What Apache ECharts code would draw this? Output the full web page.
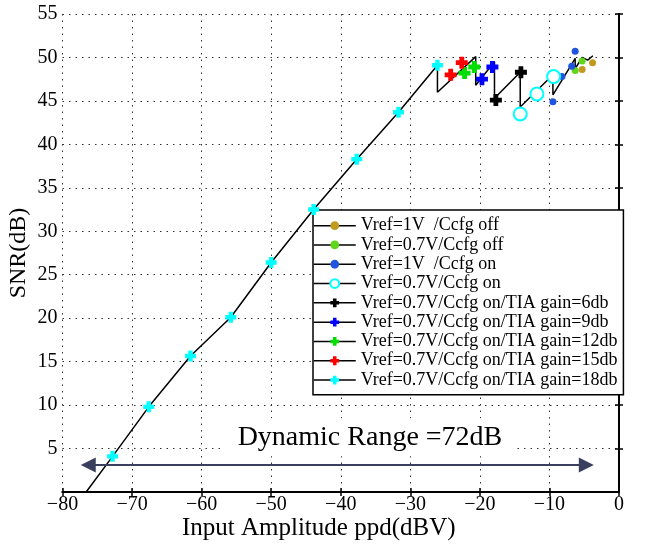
<!DOCTYPE html>
<html><head><meta charset="utf-8">
<script src="https://cdn.jsdelivr.net/npm/echarts@6/dist/echarts.min.js"></script>
<style>html,body{margin:0;padding:0;background:#fff}#c{width:655px;height:544px}</style>
</head><body><div id="c"></div>
<script>
// ---- data ----
const seriesNames = [
  'Vref=1V  /Ccfg off',
  'Vref=0.7V/Ccfg off',
  'Vref=1V  /Ccfg on',
  'Vref=0.7V/Ccfg on',
  'Vref=0.7V/Ccfg on/TIA gain=6db',
  'Vref=0.7V/Ccfg on/TIA gain=9db',
  'Vref=0.7V/Ccfg on/TIA gain=12db',
  'Vref=0.7V/Ccfg on/TIA gain=15db',
  'Vref=0.7V/Ccfg on/TIA gain=18db'
];
const curveX = [-76.6, -72.8, -67.6, -61.6, -55.8, -50.0, -43.9, -37.7, -31.7, -26.1, -26.1, -20.6, -20.6, -17.9, -17.9, -14.2, -14.2, -9.5, -9.5, -6.9, -6.3, -6.3, -5.3, -4.5, -3.75];
const curveY = [0, 4.1, 9.8, 15.65, 20.1, 26.4, 32.5, 38.3, 43.7, 49.1, 46.0, 50.1, 46.8, 49.5, 45.3, 48.3, 44.3, 48.0, 45.7, 49.1, 49.9, 48.7, 50.0, 49.7, 50.2];
const vref1OffX = [-5.3, -3.8];            const vref1OffY = [48.6, 49.4];
const vref07OffX = [-6.3, -5.3];           const vref07OffY = [48.5, 49.6];
const vref1OnX = [-9.5, -8.2, -6.8, -6.3]; const vref1OnY = [44.9, 47.8, 49.0, 50.7];
const vref07OnX = [-14.2, -11.8, -9.4];    const vref07OnY = [43.5, 45.8, 47.8];
const gain6X = [-17.7, -14.1];             const gain6Y = [45.1, 48.3];
const gain9X = [-19.7, -18.2];             const gain9Y = [47.5, 48.9];
const gain12X = [-22.2, -20.8];            const gain12Y = [48.2, 48.9];
const gain15X = [-24.2, -22.6];            const gain15Y = [48.0, 49.4];
const gain18X = [-72.8, -67.6, -61.6, -55.8, -50.0, -43.9, -37.7, -31.7, -26.1];
const gain18Y = [4.1, 9.8, 15.65, 20.1, 26.4, 32.5, 38.3, 43.7, 49.1];
const xTicks = [-80, -70, -60, -50, -40, -30, -20, -10, 0];
const yTicks = [5, 10, 15, 20, 25, 30, 35, 40, 45, 50, 55];
const rangeText = 'Dynamic Range =72dB';
const rangeStart = -76.3, rangeEnd = -4.7, rangeLevel = 3.1;
const rangeLabelAt = [-35.8, 6.3];
const xTitle = 'Input Amplitude ppd(dBV)';
const yTitle = 'SNR(dB)';

// ---- chart ----
const pairs = (xs, ys) => xs.map((x, i) => [x, ys[i]]);
const FONT = 'Liberation Serif';
const PLUS = 'path://M3,0H7V3H10V7H7V10H3V7H0V3H3Z';
const gridDash = {color: '#333', width: 1, type: [1.5, 5]};
const fmt = v => String(v).replace('-', '\u2212');

function markerSeries(name, data, symbol, size, color, extra) {
  return Object.assign({
    name: name, type: 'line', data: data, symbol: symbol, symbolSize: size,
    showSymbol: true, z: 5,
    lineStyle: {width: 0, opacity: 0},
    itemStyle: {color: color},
    emphasis: {disabled: true}
  }, extra || {});
}

const chart = echarts.init(document.getElementById('c'));
chart.setOption({
  animation: false,
  backgroundColor: '#fff',
  grid: {left: 62.5, right: 36, top: 14, bottom: 52, containLabel: false, outerBoundsMode: 'none'},
  xAxis: [{
    type: 'value', min: xTicks[0], max: xTicks[xTicks.length - 1], interval: 10, position: 'bottom',
    axisLine: {lineStyle: {color: '#000', width: 2}},
    axisTick: {inside: true, length: 4, lineStyle: {color: '#000', width: 1.5}},
    axisLabel: {fontFamily: FONT, fontSize: 20, color: '#000', margin: 3, formatter: fmt},
    splitLine: {show: true, lineStyle: gridDash},
    name: xTitle, nameLocation: 'middle', nameGap: 24, nameMoveOverlap: false,
    nameTextStyle: {fontFamily: FONT, fontSize: 25, color: '#000', padding: [0, 44, 0, 0]}
  }, {
    type: 'value', min: xTicks[0], max: xTicks[xTicks.length - 1], interval: 10, position: 'top',
    axisLine: {show: true, lineStyle: {color: '#000', width: 2}},
    axisTick: {show: true, inside: true, length: 4, lineStyle: {color: '#000', width: 1.5}},
    axisLabel: {show: false}, splitLine: {show: false}
  }],
  yAxis: [{
    type: 'value', min: 0, max: yTicks[yTicks.length - 1], interval: 5, position: 'left',
    axisLine: {show: true, lineStyle: {color: '#000', width: 2}},
    axisTick: {show: true, inside: true, length: 4, lineStyle: {color: '#000', width: 1.5}},
    axisLabel: {fontFamily: FONT, fontSize: 20, color: '#000', margin: 5, showMinLabel: false},
    splitLine: {show: true, lineStyle: gridDash},
    name: yTitle, nameLocation: 'middle', nameGap: 32, nameRotate: 90, nameMoveOverlap: false,
    nameTextStyle: {fontFamily: FONT, fontSize: 24, color: '#000'}
  }, {
    type: 'value', min: 0, max: yTicks[yTicks.length - 1], interval: 5, position: 'right',
    axisLine: {show: true, lineStyle: {color: '#000', width: 2}},
    axisTick: {show: true, inside: true, length: 4, lineStyle: {color: '#000', width: 1.5}},
    axisLabel: {show: false}, splitLine: {show: false}
  }],
  legend: {
    orient: 'vertical', left: 313, top: 210, padding: [6, 6, 5, 0],
    itemGap: 0, itemWidth: 42, itemHeight: 11,
    backgroundColor: '#fff', borderColor: '#000', borderWidth: 1.5, borderRadius: 0,
    textStyle: {fontFamily: FONT, fontSize: 18, color: '#000', lineHeight: 19.3},
    lineStyle: {color: '#000', width: 1.5, opacity: 1},
    selectedMode: false,
    data: seriesNames
  },
  series: [
    {
      name: 'curve', type: 'line', data: pairs(curveX, curveY), symbol: 'none', z: 3,
      lineStyle: {color: '#000', width: 1.5},
      markLine: {
        silent: true, symbol: ['triangle', 'triangle'], symbolSize: [15, 15],
        lineStyle: {color: '#3b3f5e', width: 2, type: 'solid'},
        label: {show: false},
        data: [[{coord: [rangeStart, rangeLevel]}, {coord: [rangeEnd, rangeLevel]}]]
      },
      markPoint: {
        silent: true,
        data: [{
          coord: rangeLabelAt, symbol: 'rect', symbolSize: [290, 38],
          itemStyle: {color: '#fff'},
          label: {show: true, position: 'inside', formatter: rangeText,
                  fontFamily: FONT, fontSize: 28, color: '#000'}
        }]
      }
    },
    markerSeries(seriesNames[0], pairs(vref1OffX, vref1OffY), 'circle', 7, '#bf9a1f'),
    markerSeries(seriesNames[1], pairs(vref07OffX, vref07OffY), 'circle', 7, '#5fd61c'),
    markerSeries(seriesNames[2], pairs(vref1OnX, vref1OnY), 'circle', 7, '#2255dd'),
    markerSeries(seriesNames[3], pairs(vref07OnX, vref07OnY), 'emptyCircle', 13, '#00ffff',
                 {itemStyle: {color: '#00ffff', borderWidth: 3.5}}),
    markerSeries(seriesNames[4], pairs(gain6X, gain6Y), PLUS, 12, '#000000'),
    markerSeries(seriesNames[5], pairs(gain9X, gain9Y), PLUS, 12, '#0000ff'),
    markerSeries(seriesNames[6], pairs(gain12X, gain12Y), PLUS, 12, '#00dd00'),
    markerSeries(seriesNames[7], pairs(gain15X, gain15Y), PLUS, 12, '#ff0000'),
    markerSeries(seriesNames[8], pairs(gain18X, gain18Y), PLUS, 11, '#00ffff')
  ]
});
</script></body></html>
